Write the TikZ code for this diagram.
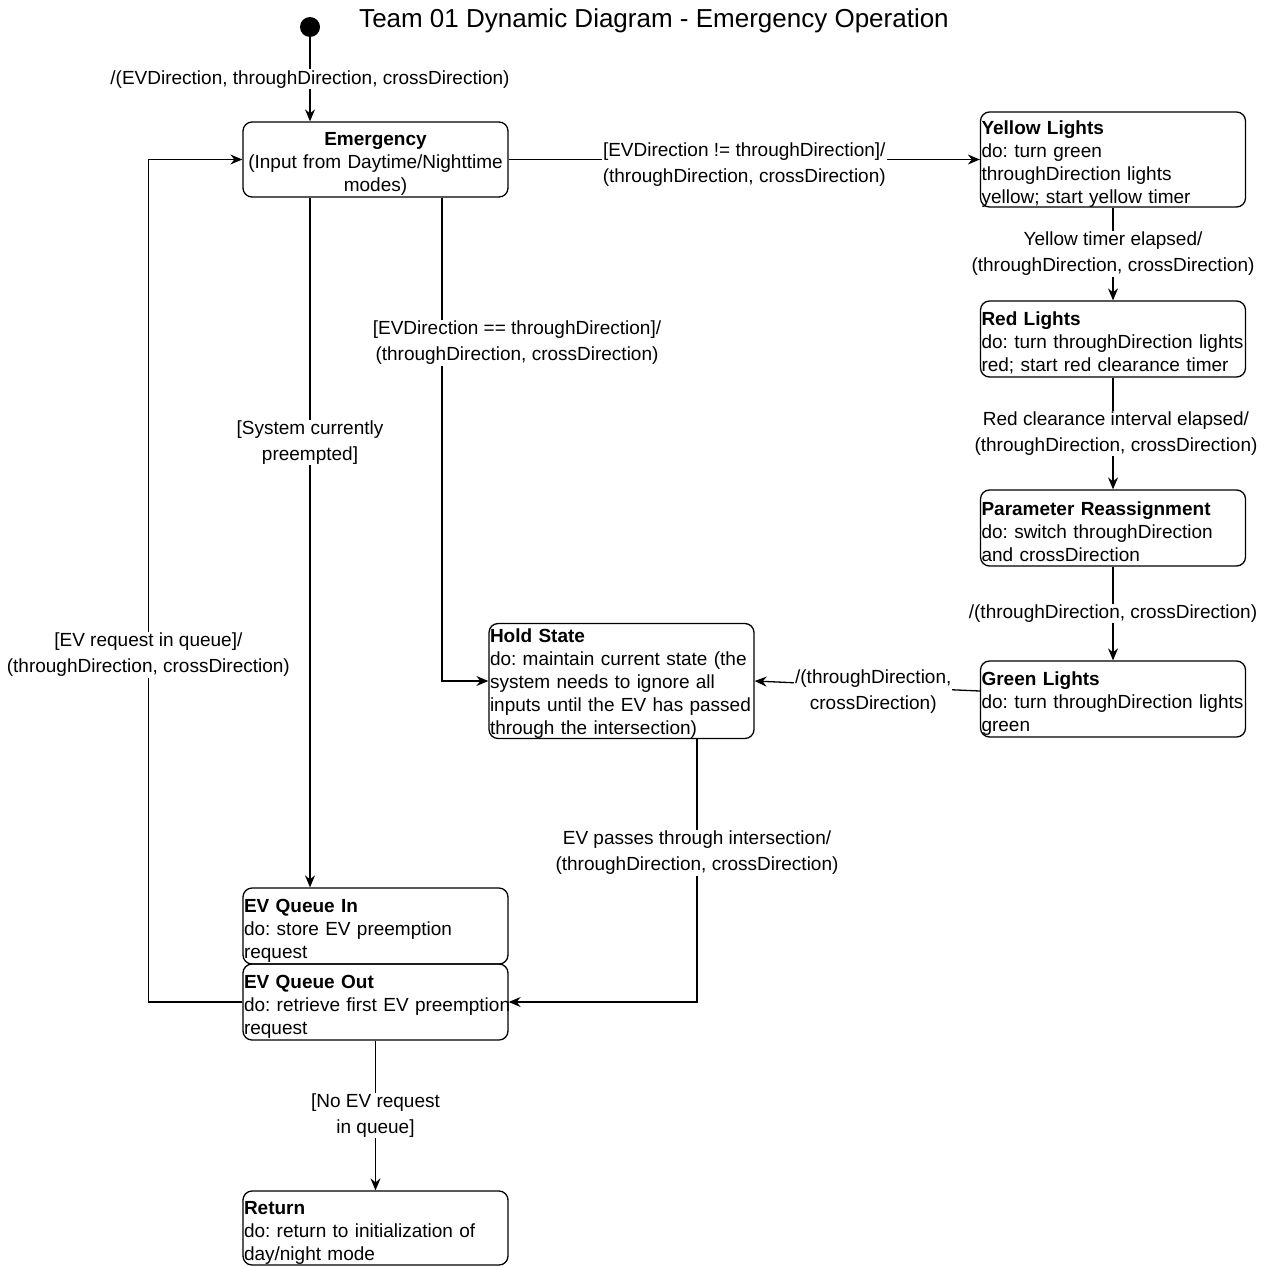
\documentclass[tikz,border=0pt]{standalone}
\usepackage{fontspec}
\setmainfont{Liberation Sans}
\usetikzlibrary{arrows.meta,calc}
% raises the first text line of a state so its block sits centred
\newcommand{\tstrut}{\rule{0pt}{22pt}}
\begin{document}
\frenchspacing
\hyphenpenalty=10000
\exhyphenpenalty=10000
\begin{tikzpicture}[x=1pt,y=-1pt,
  state/.style={draw, rounded corners=9pt, line width=1.3pt, minimum width=265pt,
    text width=263pt, inner xsep=1pt, inner ysep=0pt, align=left,
    font=\fontsize{19}{23}\selectfont},
  lbl/.style={fill=white, inner sep=1pt, align=center,
    font=\fontsize{19}{26}\selectfont},
  arr/.style={line width=1.3pt, -{Stealth[length=12pt,width=10pt,inset=4pt]}},
]
\useasboundingbox (0,0) rectangle (1268,1266);

% title and initial pseudo-state
\node[font=\fontsize{26}{30}\selectfont] (title) at (654,21) {Team 01 Dynamic Diagram - Emergency Operation};
\node[circle, fill=black, minimum size=20pt, inner sep=0pt] (init) at (310,27) {};

% states
\node[state, align=center, minimum height=75pt] (emg) at (375.5,159.5)
  {\tstrut\textbf{Emergency}\\(Input from Daytime/Nighttime\\modes)};
\node[state, minimum height=95pt] (yel) at (1113,159.5)
  {\tstrut\textbf{Yellow Lights}\\do: turn green\\throughDirection lights\\yellow; start yellow timer};
\node[state, minimum height=76pt] (red) at (1113,339)
  {\tstrut\textbf{Red Lights}\\do: turn throughDirection lights\\red; start red clearance timer};
\node[state, minimum height=76pt] (par) at (1113,528)
  {\tstrut\textbf{Parameter Reassignment}\\do: switch throughDirection\\and crossDirection};
\node[state, minimum height=76pt] (grn) at (1113,699)
  {\tstrut\textbf{Green Lights}\\do: turn throughDirection lights\\green};
\node[state, minimum height=114pt] (hold) at (621.5,681)
  {\rule{0pt}{19pt}\textbf{Hold State}\\do: maintain current state (the\\system needs to ignore all\\inputs until the EV has passed\\through the intersection)};
\node[state, minimum height=76pt] (qin) at (375.5,926)
  {\tstrut\textbf{EV Queue In}\\do: store EV preemption\\request};
\node[state, minimum height=76pt] (qout) at (375.5,1002)
  {\tstrut\textbf{EV Queue Out}\\\mbox{do: retrieve first EV preemption}\\request};
\node[state, minimum height=74pt] (ret) at (375.5,1228)
  {\tstrut\textbf{Return}\\do: return to initialization of\\day/night mode};

% transitions
\draw[arr] (init) -- node[lbl]{/(EVDirection, throughDirection, crossDirection)} (init |- emg.north);
\draw[arr] (emg.east) -- node[lbl,yshift=-5pt]{[EVDirection != throughDirection]/\\(throughDirection, crossDirection)} (yel.west);
\draw[arr] (yel) -- node[lbl]{Yellow timer elapsed/\\(throughDirection, crossDirection)} (red);
\draw[arr] (red) -- node[lbl,xshift=3pt]{Red clearance interval elapsed/\\(throughDirection, crossDirection)} (par);
\draw[arr] (par) -- node[lbl]{/(throughDirection, crossDirection)} (grn);
\draw[arr] ([yshift=8pt]grn.west) -- node[lbl,xshift=6pt,yshift=-6pt]{/(throughDirection,\\crossDirection)} (hold.east);
\draw[arr] ([xshift=66.5pt]emg.south) |- node[lbl,pos=0.15,xshift=75pt]{[EVDirection == throughDirection]/\\(throughDirection, crossDirection)} (hold.west);
\draw[arr] ([xshift=-65.5pt]emg.south) -- node[lbl,pos=0.355]{[System currently\\preempted]} ([xshift=-65.5pt]qin.north);
\draw[arr] ([xshift=75.5pt]hold.south) |- node[lbl,pos=0.216]{EV passes through intersection/\\(throughDirection, crossDirection)} (qout.east);
\draw[arr] (qout.west) -- ++(-94,0) |- node[lbl,pos=0.206]{[EV request in queue]/\\(throughDirection, crossDirection)} (emg.west);
\draw[arr] (qout) -- node[lbl]{[No EV request\\in queue]} (ret);
\end{tikzpicture}
\end{document}
